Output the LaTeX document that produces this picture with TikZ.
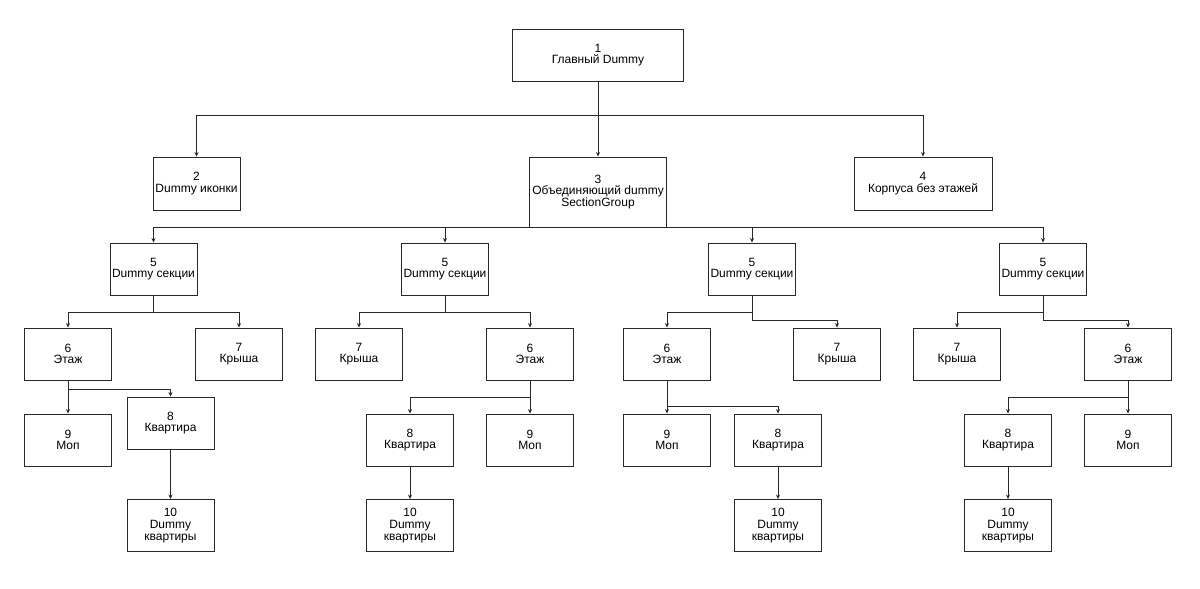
\documentclass[tikz,border=0pt]{standalone}
\usepackage{fontspec}
\setmainfont{Liberation Sans}
\usepackage{xcolor}
\usetikzlibrary{arrows.meta, positioning, calc}
\definecolor{dmline}{RGB}{40, 40, 40}
\newcommand{\dmfont}{\fontsize{12pt}{11.7pt}\selectfont}
\tikzset{
  box/.style={rectangle, draw=dmline, fill=white, line width=0.9pt,
              minimum width=#1, minimum height=52pt, inner sep=1pt,
              align=center, font=\dmfont},
  box/.default=87pt,
  arrow/.style={-{Stealth[length=4.5pt, width=4pt]}, line width=0.9pt, color=dmline},
}

\begin{document}
\begin{tikzpicture}[x=1pt, y=-1pt]
        \useasboundingbox (0,0) rectangle (1200,589);

        \node[box=171pt] (main) at (598,55) {1\\Главный Dummy};
        \node[box, minimum height=53pt] (icons) at (196.5,183.5) {2\\Dummy иконки};
        \node[box=137pt, minimum height=70pt] (group) at (598,192) {3\\Объединяющий dummy\\SectionGroup};
        \node[box=138pt, minimum height=53pt] (blocks) at (923,183.5) {4\\Корпуса без этажей};

        \node[box] (secA) at (153.5,269) {5\\Dummy секции};
        \node[box] (secB) at (445,269) {5\\Dummy секции};
        \node[box] (secC) at (752,269) {5\\Dummy секции};
        \node[box] (secD) at (1043,269) {5\\Dummy секции};

        \node[box] (floorA) at (68,354) {6\\Этаж};
        \node[box] (roofA) at (239,354) {7\\Крыша};
        \node[box] (mopA) at (68,440) {9\\Моп};
        \node[box] (flatA) at (170.5,423) {8\\Квартира};
        \node[box] (dflatA) at (170.5,525.5) {10\\Dummy\\квартиры};

        \node[box] (roofB) at (359,354) {7\\Крыша};
        \node[box] (floorB) at (530,354) {6\\Этаж};
        \node[box] (flatB) at (410,440) {8\\Квартира};
        \node[box] (mopB) at (530,440) {9\\Моп};
        \node[box] (dflatB) at (410,525.5) {10\\Dummy\\квартиры};

        \node[box] (floorC) at (667,354) {6\\Этаж};
        \node[box] (roofC) at (837,354) {7\\Крыша};
        \node[box] (mopC) at (667,440) {9\\Моп};
        \node[box] (flatC) at (778,440) {8\\Квартира};
        \node[box] (dflatC) at (778,525.5) {10\\Dummy\\квартиры};

        \node[box] (roofD) at (957,354) {7\\Крыша};
        \node[box] (floorD) at (1128,354) {6\\Этаж};
        \node[box] (flatD) at (1008,440) {8\\Квартира};
        \node[box] (mopD) at (1128,440) {9\\Моп};
        \node[box] (dflatD) at (1008,525.5) {10\\Dummy\\квартиры};

        \coordinate (jmain) at (598,115);
        \draw[arrow] (main.south) -- (jmain) -| (icons.north);
        \draw[arrow] (jmain) -- (group.north);
        \draw[arrow] (jmain) -| (blocks.north);

        \draw[arrow] (group.south) -| (secA.north);
        \draw[arrow] (group.south) -| (secB.north);
        \draw[arrow] (group.south) -| (secC.north);
        \draw[arrow] (group.south) -| (secD.north);

        \coordinate (jsecA) at (153.5,312);
        \draw[arrow] (secA.south) -- (jsecA) -| (floorA.north);
        \draw[arrow] (jsecA) -| (roofA.north);
        \coordinate (jfloorA) at (68,389);
        \draw[arrow] (floorA.south) -- (mopA.north);
        \draw[arrow] (jfloorA) -| (flatA.north);
        \draw[arrow] (flatA.south) -- (dflatA.north);

        \coordinate (jsecB) at (445,312);
        \draw[arrow] (secB.south) -- (jsecB) -| (roofB.north);
        \draw[arrow] (jsecB) -| (floorB.north);
        \coordinate (jfloorB) at (530,397);
        \draw[arrow] (floorB.south) -- (mopB.north);
        \draw[arrow] (jfloorB) -| (flatB.north);
        \draw[arrow] (flatB.south) -- (dflatB.north);

        \coordinate (jsecC) at (752,312);
        \coordinate (ksecC) at (752,320);
        \draw[arrow] (secC.south) -- (jsecC) -| (floorC.north);
        \draw[arrow] (jsecC) -- (ksecC) -| (roofC.north);
        \coordinate (jfloorC) at (667,406);
        \draw[arrow] (floorC.south) -- (mopC.north);
        \draw[arrow] (jfloorC) -| (flatC.north);
        \draw[arrow] (flatC.south) -- (dflatC.north);

        \coordinate (jsecD) at (1043,312);
        \coordinate (ksecD) at (1043,320);
        \draw[arrow] (secD.south) -- (jsecD) -| (roofD.north);
        \draw[arrow] (jsecD) -- (ksecD) -| (floorD.north);
        \coordinate (jfloorD) at (1128,397);
        \draw[arrow] (floorD.south) -- (mopD.north);
        \draw[arrow] (jfloorD) -| (flatD.north);
        \draw[arrow] (flatD.south) -- (dflatD.north);
      \end{tikzpicture}
\end{document}
